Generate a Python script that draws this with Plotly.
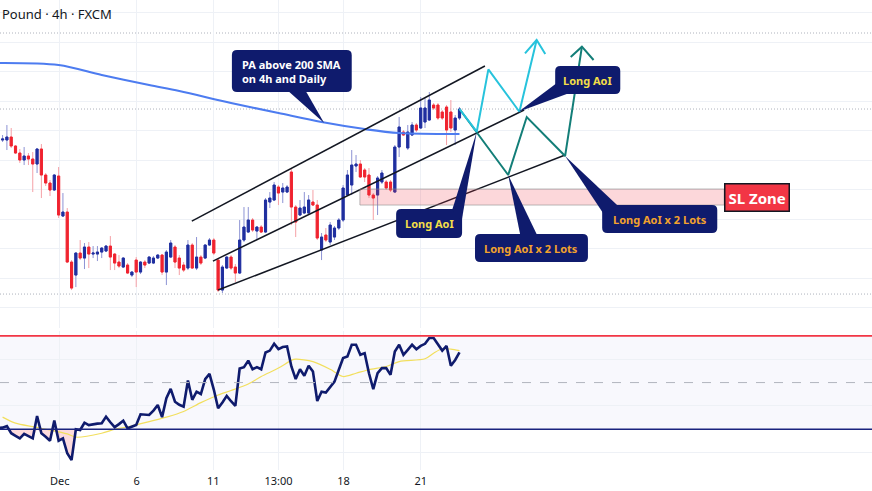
import plotly.graph_objects as go

# ---------------- data (prices) ----------------
bars = list(range(-1, 107))
opens = [1.2770,1.2760,1.2760,1.2763,1.2754,1.2747,1.2740,1.2744,1.2741,1.2736,1.2751,1.2725,1.2717,1.2710,1.2724,1.2684,1.2688,1.2638,
         1.2625,1.2647,1.2642,1.2653,1.2646,1.2646,1.2648,1.2649,1.2654,1.2646,1.2638,1.2633,1.2635,1.2625,1.2640,1.2628,1.2638,1.2637,
         1.2637,1.2642,1.2645,1.2628,1.2643,1.2653,1.2642,1.2635,1.2632,1.2655,1.2632,1.2643,1.2642,1.2655,1.2660,1.2640,1.2610,1.2632,
         1.2643,1.2633,1.2627,1.2660,1.2668,1.2680,1.2669,1.2673,1.2668,1.2698,1.2700,1.2713,1.2708,1.2708,1.2728,1.2693,1.2685,1.2687,
         1.2687,1.2698,1.2695,1.2650,1.2665,1.2658,1.2663,1.2672,1.2680,1.2705,1.2715,1.2734,1.2736,1.2730,1.2725,1.2705,1.2705,1.2718,
         1.2718,1.2718,1.2708,1.2753,1.2768,1.2752,1.2765,1.2775,1.2772,1.2778,1.2780,1.2795,1.2795,1.2788,1.2793,1.2788,1.2770,1.2782]
highs = [1.2772,1.2765,1.2775,1.2772,1.2755,1.2751,1.2753,1.2747,1.2748,1.2752,1.2756,1.2727,1.2720,1.2726,1.2733,1.2707,1.2692,1.2640,
         1.2648,1.2660,1.2657,1.2658,1.2654,1.2654,1.2653,1.2655,1.2664,1.2647,1.2645,1.2643,1.2637,1.2629,1.2643,1.2639,1.2640,1.2644,
         1.2644,1.2646,1.2646,1.2650,1.2660,1.2655,1.2645,1.2638,1.2660,1.2657,1.2663,1.2645,1.2656,1.2662,1.2662,1.2642,1.2635,1.2644,
         1.2645,1.2636,1.2680,1.2693,1.2693,1.2682,1.2674,1.2675,1.2702,1.2708,1.2718,1.2715,1.2717,1.2715,1.2732,1.2695,1.2700,1.2708,
         1.2705,1.2710,1.2700,1.2667,1.2672,1.2678,1.2674,1.2682,1.2715,1.2730,1.2750,1.2745,1.2740,1.2732,1.2732,1.2707,1.2724,1.2730,
         1.2720,1.2720,1.2755,1.2783,1.2770,1.2775,1.2778,1.2777,1.2803,1.2802,1.2808,1.2797,1.2797,1.2790,1.2795,1.2800,1.2785,1.2793]
lows = [1.2758,1.2758,1.2750,1.2752,1.2746,1.2737,1.2735,1.2735,1.2708,1.2727,1.2702,1.2714,1.2704,1.2709,1.2682,1.2683,1.2637,1.2610,
        1.2613,1.2640,1.2631,1.2632,1.2642,1.2639,1.2642,1.2648,1.2630,1.2630,1.2632,1.2632,1.2626,1.2623,1.2613,1.2626,1.2632,1.2636,
        1.2636,1.2641,1.2625,1.2615,1.2642,1.2632,1.2625,1.2628,1.2630,1.2631,1.2630,1.2635,1.2641,1.2654,1.2645,1.2608,1.2607,1.2631,
        1.2630,1.2618,1.2626,1.2658,1.2667,1.2668,1.2660,1.2667,1.2667,1.2692,1.2699,1.2695,1.2697,1.2707,1.2675,1.2663,1.2684,1.2686,
        1.2686,1.2694,1.2660,1.2640,1.2658,1.2655,1.2660,1.2670,1.2678,1.2704,1.2705,1.2728,1.2722,1.2718,1.2702,1.2680,1.2685,1.2716,
        1.2710,1.2708,1.2707,1.2743,1.2764,1.2750,1.2764,1.2768,1.2771,1.2772,1.2779,1.2790,1.2780,1.2780,1.2755,1.2768,1.2755,1.2780]
closes = [1.2760,1.2761,1.2763,1.2754,1.2747,1.2740,1.2744,1.2741,1.2736,1.2751,1.2725,1.2717,1.2710,1.2725,1.2685,1.2688,1.2638,1.2612,
          1.2647,1.2642,1.2653,1.2646,1.2647,1.2648,1.2652,1.2654,1.2643,1.2637,1.2634,1.2642,1.2627,1.2628,1.2628,1.2638,1.2635,1.2643,
          1.2642,1.2645,1.2628,1.2648,1.2657,1.2638,1.2632,1.2630,1.2655,1.2632,1.2643,1.2637,1.2655,1.2660,1.2647,1.2610,1.2633,1.2643,
          1.2632,1.2627,1.2660,1.2673,1.2680,1.2670,1.2673,1.2668,1.2700,1.2702,1.2715,1.2707,1.2712,1.2713,1.2693,1.2678,1.2692,1.2693,
          1.2700,1.2695,1.2662,1.2663,1.2660,1.2675,1.2672,1.2680,1.2712,1.2725,1.2735,1.2736,1.2723,1.2723,1.2705,1.2702,1.2722,1.2727,
          1.2712,1.2710,1.2753,1.2773,1.2765,1.2768,1.2775,1.2770,1.2792,1.2792,1.2800,1.2792,1.2782,1.2782,1.2770,1.2772,1.2782,1.2791]

# 200 SMA (main pane)
sma_bars = [-1, 13, 23, 34, 41, 53, 64, 74, 84, 92, 106]
sma_vals = [1.2837, 1.2835, 1.2825, 1.2815, 1.2809, 1.2797, 1.2787, 1.2778, 1.2771, 1.2767, 1.2766]

# horizontal dotted levels
level_prices = [1.2867, 1.2791, 1.2606]

# channel lines
channel_x = [[43.9, 111.9], [48.8, 121.0], [50.0, 130.5]]
channel_y = [[1.2679, 1.2834], [1.2639, 1.2790], [1.2610, 1.2745]]

# projected paths
cyan_x = [106, 110.0, 112.7, 119.9, 123.9]
cyan_y = [1.2791, 1.27683, 1.28307, 1.27883, 1.2860]
cyan_head_x = [121.2, 123.9, 125.9]
cyan_head_y = [1.28467, 1.2860, 1.2846]
teal_x = [106, 117.3, 121.6, 130.5, 134.4]
teal_y = [1.2791, 1.2725, 1.2783, 1.2744, 1.28533]
teal_head_x = [131.8, 134.4, 137.1]
teal_head_y = [1.2843, 1.28533, 1.2840]

# SL zone
sl_x = [82.9, 167.4]
sl_y = [1.2695, 1.2711]

# RSI pane
rsi_bars = list(range(-1, 107))
rsi_vals = [30.5,30.7,31.4,28.3,27.2,26.1,28.0,27.0,26.1,35.7,28.3,26.8,25.1,33.7,25.1,26.1,19.7,16.8,30.0,29.7,32.8,31.8,32.2,32.4,32.6,35.4,
            33.0,30.9,32.2,33.7,30.4,31.0,31.8,36.4,36.2,36.1,38.0,40.4,35.2,43.3,47.3,41.8,40.5,39.7,50.9,42.6,46.1,45.1,51.5,53.7,47.0,
            39.0,41.5,44.3,42.0,40.0,56.0,56.6,59.4,55.7,56.6,55.7,62.9,63.7,66.6,64.3,65.2,65.5,56.9,51.5,55.7,52.9,57.2,54.7,42.1,46.1,
            45.7,48.0,50.4,55.5,60.5,61.2,66.2,66.2,61.9,62.6,54.0,47.2,54.0,56.2,56.2,53.3,63.3,66.2,61.9,64.0,66.2,64.3,65.7,66.6,69.1,
            69.1,66.2,63.7,65.7,57.2,59.7,62.9]
rsi_ma_bars = [0,3,7,11,15,17,23,26,30,34,38,42,46,50,53,57,60,64,67,68,72,76,79,82,85,89,92,98,100,102,104,106]
rsi_ma_vals = [35.2,32.6,31.1,29.7,28.0,26.6,28.3,30.0,31.4,33.3,35.2,37.6,41.4,44.7,46.6,49.4,52.6,56.2,59.5,60.0,59.0,55.7,52.6,
               54.0,55.5,56.9,59.0,60.2,62.6,64.5,64.3,63.7]
rsi_levels = [70, 50, 30]

tick_pos = [13.25, 31.1, 48.9, 64.0, 79.1, 97.0]
tick_text = ["Dec", "6", "11", "13:00", "18", "21"]

# ---------------- styling ----------------
UP, DOWN = "#1f2f9f", "#f0232f"
UP_W, DOWN_W = "#8d93d4", "#f5a0a6"
NAVY = "#0f1b6d"
FONT = "Noto Sans"

fig = go.Figure()

# wicks (light) + bodies (dark)
fig.add_trace(go.Candlestick(x=bars, open=opens, high=highs, low=lows, close=closes,
                             increasing=dict(line=dict(color=UP_W, width=1), fillcolor=UP_W),
                             decreasing=dict(line=dict(color=DOWN_W, width=1), fillcolor=DOWN_W),
                             whiskerwidth=0, showlegend=False, hoverinfo="skip"))
body_hi = [max(o, c) for o, c in zip(opens, closes)]
body_lo = [min(o, c) for o, c in zip(opens, closes)]
fig.add_trace(go.Candlestick(x=bars, open=opens, high=body_hi, low=body_lo, close=closes,
                             increasing=dict(line=dict(color=UP, width=1), fillcolor=UP),
                             decreasing=dict(line=dict(color=DOWN, width=1), fillcolor=DOWN),
                             whiskerwidth=0, showlegend=False, hoverinfo="skip"))

fig.add_trace(go.Scatter(x=sma_bars, y=sma_vals, mode="lines",
                         line=dict(color="#4d7cf0", width=2.2, shape="spline", smoothing=0.9),
                         showlegend=False, hoverinfo="skip"))

for cx, cy in zip(channel_x, channel_y):
    fig.add_trace(go.Scatter(x=cx, y=cy, mode="lines", line=dict(color="#131722", width=1.5),
                             showlegend=False, hoverinfo="skip"))

for px_, py_, col in [(teal_x, teal_y, "#137e78"), (teal_head_x, teal_head_y, "#137e78"),
                      (cyan_x, cyan_y, "#27c3dc"), (cyan_head_x, cyan_head_y, "#27c3dc")]:
    fig.add_trace(go.Scatter(x=px_, y=py_, mode="lines", line=dict(color=col, width=2),
                             showlegend=False, hoverinfo="skip"))

# RSI oversold fill, RSI MA, RSI
fig.add_trace(go.Scatter(x=rsi_bars, y=[30] * len(rsi_bars), yaxis="y2", mode="lines",
                         line=dict(width=0, color="rgba(0,0,0,0)"), showlegend=False, hoverinfo="skip"))
fig.add_trace(go.Scatter(x=rsi_bars, y=[min(v, 30) for v in rsi_vals], yaxis="y2", mode="lines",
                         line=dict(width=0, color="rgba(0,0,0,0)"), fill="tonexty",
                         fillcolor="rgba(242,54,69,0.18)", showlegend=False, hoverinfo="skip"))
fig.add_trace(go.Scatter(x=rsi_ma_bars, y=rsi_ma_vals, yaxis="y2", mode="lines",
                         line=dict(color="#f2df5e", width=1.2, shape="spline", smoothing=0.8),
                         showlegend=False, hoverinfo="skip"))
fig.add_trace(go.Scatter(x=rsi_bars, y=rsi_vals, yaxis="y2", mode="lines",
                         line=dict(color="#0f1b6d", width=2.6), showlegend=False, hoverinfo="skip"))

shapes = []
# RSI background band + levels
shapes.append(dict(type="rect", xref="paper", yref="y2", x0=0, x1=1, y0=rsi_levels[2], y1=rsi_levels[0],
                   fillcolor="rgba(120,123,220,0.05)", line=dict(width=0), layer="below"))
shapes.append(dict(type="line", xref="paper", yref="y2", x0=0, x1=1, y0=rsi_levels[0], y1=rsi_levels[0],
                   line=dict(color="#f23645", width=1.6)))
shapes.append(dict(type="line", xref="paper", yref="y2", x0=0, x1=1, y0=rsi_levels[1], y1=rsi_levels[1],
                   line=dict(color="#b2b5be", width=1, dash="dash")))
shapes.append(dict(type="line", xref="paper", yref="y2", x0=0, x1=1, y0=rsi_levels[2], y1=rsi_levels[2],
                   line=dict(color="#1a237e", width=1.6)))
# dotted levels
for lp in level_prices:
    shapes.append(dict(type="line", xref="paper", yref="y", x0=0, x1=1, y0=lp, y1=lp,
                       line=dict(color="#aeb2bc", width=1, dash="1px,2px"), layer="below"))
# SL zone
shapes.append(dict(type="rect", xref="x", yref="y", x0=sl_x[0], x1=sl_x[1], y0=sl_y[0], y1=sl_y[1],
                   fillcolor="rgba(242,54,69,0.2)", line=dict(color="rgba(140,140,140,0.6)", width=1)))


def rbox(x0, x1, y0, y1, rx=1.2, ry=0.0005):
    return (f"M{x0+rx},{y1} L{x1-rx},{y1} Q{x1},{y1} {x1},{y1-ry} L{x1},{y0+ry} Q{x1},{y0} {x1-rx},{y0} "
            f"L{x0+rx},{y0} Q{x0},{y0} {x0},{y0+ry} L{x0},{y1-ry} Q{x0},{y1} {x0+rx},{y1} Z")


callouts = [
    dict(box=(53.2, 81.0, 1.2808, 1.2850), tail=[(66.0, 1.2810), (74.6, 1.2777), (70.2, 1.2810)],
         text="PA above 200 SMA<br>on 4h and Daily", color="#ffffff", align="left", tx=55.0, ty=1.28285),
    dict(box=(128.2, 143.3, 1.2806, 1.2834), tail=[(128.9, 1.2818), (119.7, 1.27883), (131.5, 1.2807)],
         text="Long AoI", color="#f3df48", align="center", tx=135.75, ty=1.2820),
    dict(box=(91.3, 106.6, 1.2662, 1.2691), tail=[(104.3, 1.2690), (110.0, 1.27683), (106.5, 1.2679)],
         text="Long AoI", color="#f3df48", align="center", tx=98.95, ty=1.26765),
    dict(box=(109.6, 135.8, 1.2638, 1.2666), tail=[(120.1, 1.2665), (117.3, 1.2725), (124.0, 1.2665)],
         text="Long AoI x 2 Lots", color="#f2a22c", align="center", tx=122.7, ty=1.2652),
    dict(box=(139.1, 165.8, 1.2667, 1.2695), tail=[(139.3, 1.2687), (130.5, 1.2744), (142.8, 1.2694)],
         text="Long AoI x 2 Lots", color="#f2a22c", align="center", tx=152.45, ty=1.2681),
]
annotations = []
for c in callouts:
    x0, x1, y0, y1 = c["box"]
    shapes.append(dict(type="path", xref="x", yref="y", path=rbox(x0, x1, y0, y1),
                       fillcolor=NAVY, line=dict(width=0)))
    (ax, ay), (bx, by), (cx_, cy_) = c["tail"]
    shapes.append(dict(type="path", xref="x", yref="y", path=f"M{ax},{ay} L{bx},{by} L{cx_},{cy_} Z",
                       fillcolor=NAVY, line=dict(width=0)))
    annotations.append(dict(x=c["tx"], y=c["ty"], xref="x", yref="y", text=c["text"], showarrow=False,
                            xanchor="left" if c["align"] == "left" else "center", yanchor="middle",
                            align=c["align"], font=dict(family=FONT, size=11, color=c["color"], weight="bold")))

annotations.append(dict(x=sl_x[1], y=(sl_y[0] + sl_y[1]) / 2, xref="x", yref="y", text="SL Zone", showarrow=False,
                        xanchor="left", yanchor="middle", bgcolor="#f23645", bordercolor="#131722", borderwidth=1.5,
                        borderpad=3, font=dict(family=FONT, size=15, color="#ffffff", weight="bold")))
annotations.append(dict(x=0, y=1 - 14 / 470, xref="paper", yref="paper", text="Pound · 4h · FXCM", showarrow=False,
                        xanchor="left", yanchor="middle", font=dict(family=FONT, size=13, color="#131722")))

fig.update_layout(
    width=872, height=491, margin=dict(l=0, r=0, t=0, b=21),
    paper_bgcolor="#ffffff", plot_bgcolor="#ffffff", showlegend=False,
    shapes=shapes, annotations=annotations, boxgap=0.3,
    xaxis=dict(domain=[0, 1], range=[-0.6, 201.7], anchor="y2", tickmode="array", tickvals=tick_pos,
               ticktext=tick_text, showgrid=True, gridcolor="#eef1f6", gridwidth=1, zeroline=False,
               showline=False, ticks="", ticklabelstandoff=3,
               tickfont=dict(family=FONT, size=11, color="#131722"),
               rangeslider=dict(visible=False), fixedrange=True),
    yaxis=dict(domain=[0.302, 1], range=[1.2572, 1.2900], anchor="x", showticklabels=False, tick0=1.28875,
               dtick=0.00295, showgrid=True, gridcolor="#eef1f6", zeroline=False, fixedrange=True),
    yaxis2=dict(domain=[0, 0.296], range=[12.55, 72.14], anchor="x", showticklabels=False, tickmode="array",
                tickvals=[20, 40, 60], showgrid=True, gridcolor="#eef1f6", zeroline=False, fixedrange=True),
)

fig.write_html("out.html", config={"displayModeBar": False},
               post_script="document.body.style.margin='0';document.body.style.overflow='hidden';")
